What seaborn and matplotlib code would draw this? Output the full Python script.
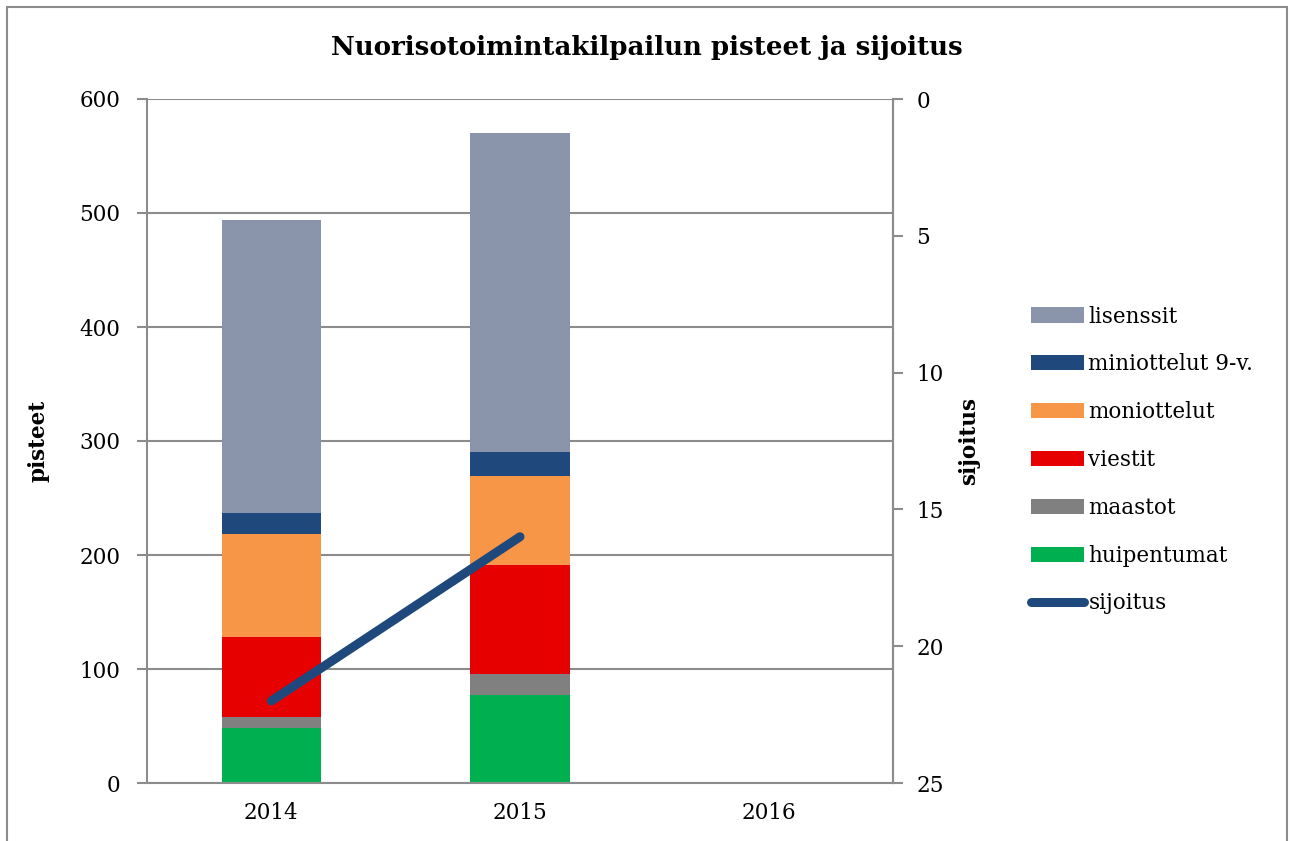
import numpy as np
import pandas as pd
import matplotlib
matplotlib.use("Agg")
import matplotlib.pyplot as plt
import seaborn as sns
from matplotlib.patches import Patch, Rectangle
from matplotlib.lines import Line2D

# data
years = ['2014', '2015', '2016']
huipentumat = [48, 77, 0]
maastot = [10, 19, 0]
viestit = [70, 95, 0]
moniottelut = [90, 78, 0]
miniottelut = [19, 21, 0]
lisenssit = [257, 280, 0]
sijoitus = [22, 16]

series = ['huipentumat', 'maastot', 'viestit', 'moniottelut', 'miniottelut 9-v.', 'lisenssit']
values = [huipentumat, maastot, viestit, moniottelut, miniottelut, lisenssit]
colors = ['#00B050', '#808080', '#E60000', '#F79646', '#1F497D', '#8A95AB']
line_color = '#1F497D'
grid_color = '#8C8C8C'

sns.set_style('white')
plt.rcParams['font.family'] = ['DejaVu Serif']
plt.rcParams['font.size'] = 15.5
plt.rcParams['text.color'] = 'black'
plt.rcParams['axes.labelcolor'] = 'black'
plt.rcParams['xtick.labelcolor'] = 'black'
plt.rcParams['ytick.labelcolor'] = 'black'

fig = plt.figure(figsize=(12.93, 8.41), dpi=100)
ax = fig.add_axes([147 / 1293, 58 / 841, 746 / 1293, 684 / 841])

# stacked bars: draw cumulative totals from the top layer down
cum = np.cumsum(np.array(values), axis=0)
for i in range(len(series) - 1, -1, -1):
    df = pd.DataFrame({'year': years, 'value': cum[i]})
    sns.barplot(data=df, x='year', y='value', order=years, color=colors[i],
                width=0.4, saturation=1, linewidth=0, ax=ax, zorder=2)

ax.set_ylim(0, 600)
ax.set_xlim(-0.5, 2.5)
ax.set_yticks(range(0, 601, 100))
ax.yaxis.grid(True, color=grid_color, linewidth=1.5, zorder=0)
ax.set_axisbelow(True)
ax.set_xticks([0, 1, 2])
ax.set_xticklabels(years)
ax.set_xticks([-0.5, 0.5, 1.5, 2.5], minor=True)
ax.tick_params(axis='x', which='major', length=0, pad=14)
ax.tick_params(axis='x', which='minor', length=7, width=1.5, color=grid_color, direction='out')
ax.tick_params(axis='y', length=7, width=1.5, color=grid_color, direction='out', pad=12)
ax.set_xlabel('')
ax.set_ylabel('pisteet', fontweight='bold', labelpad=22)
for side in ['left', 'right', 'bottom']:
    ax.spines[side].set_color(grid_color)
    ax.spines[side].set_linewidth(1.5)
ax.spines['top'].set_visible(False)

# rank on inverted right axis
ax2 = ax.twinx()
sns.lineplot(x=[0, 1], y=sijoitus, ax=ax2, color=line_color, linewidth=6.5,
             solid_capstyle='round', zorder=3)
ax2.set_ylim(25, 0)
ax2.set_yticks(range(0, 26, 5))
ax2.tick_params(axis='y', length=7, width=1.5, color=grid_color, direction='out', pad=10)
ax2.set_ylabel('sijoitus', fontweight='bold', labelpad=10)
ax2.yaxis.label.set_rotation(90)
for side in ['left', 'right', 'bottom', 'top']:
    ax2.spines[side].set_visible(False)
ax2.spines['right'].set_visible(True)
ax2.spines['right'].set_color(grid_color)
ax2.spines['right'].set_linewidth(1.5)

fig.suptitle('Nuorisotoimintakilpailun pisteet ja sijoitus', fontweight='bold',
             fontsize=18.7, y=1 - 48 / 841, va='center')

# legend
handles = [Patch(facecolor=colors[i], edgecolor='none', label=series[i])
           for i in range(len(series) - 1, -1, -1)]
handles.append(Line2D([0], [0], color=line_color, linewidth=6.5,
                      solid_capstyle='round', label='sijoitus'))
fig.legend(handles=handles, loc='center left', bbox_to_anchor=(1012 / 1293, 1 - 460 / 841),
           frameon=False, handlelength=2.45, handleheight=0.7, handletextpad=0.2,
           labelspacing=1.2, fontsize=15.5)

# outer chart frame
fig.patches.append(Rectangle((7 / 1293, -0.05), 1280 / 1293, 1.05 - 7 / 841,
                             transform=fig.transFigure, fill=False,
                             edgecolor='#8C8C8C', linewidth=1.5))

fig.savefig('out.png', dpi=100)
